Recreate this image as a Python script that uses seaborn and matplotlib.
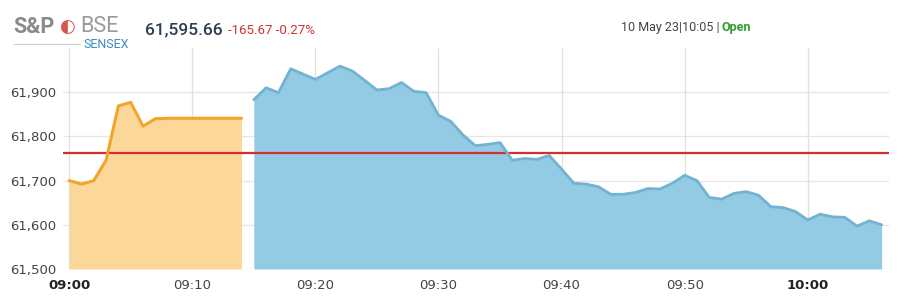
import matplotlib
matplotlib.use("Agg")
import matplotlib.pyplot as plt
import seaborn as sns
import numpy as np
import pandas as pd

# ---- data (minutes after 09:00) ----
pre_minutes = list(range(0, 15))
pre_values = [61700, 61692, 61700, 61746, 61869, 61877, 61823, 61840,
              61841, 61841, 61841, 61841, 61841, 61841, 61841]

live_minutes = list(range(15, 67))
live_values = [61883, 61910, 61899, 61953, 61941, 61929, 61944, 61959, 61948, 61927,
               61905, 61908, 61922, 61902, 61899, 61848, 61834, 61803, 61779, 61782,
               61786, 61746, 61750, 61748, 61757, 61726, 61694, 61692, 61686, 61669,
               61669, 61673, 61682, 61681, 61694, 61712, 61700, 61662, 61658, 61671,
               61675, 61667, 61641, 61639, 61630, 61611, 61624, 61618, 61617, 61597,
               61609, 61600]

prev_close = 61762
y_ticks = [61500, 61600, 61700, 61800, 61900]
x_ticks = [0, 10, 20, 30, 40, 50, 60]
x_labels = ["09:00", "09:10", "09:20", "09:30", "09:40", "09:50", "10:00"]
bold_labels = {"09:00", "10:00"}

pre_df = pd.DataFrame({"t": pre_minutes, "v": pre_values})
live_df = pd.DataFrame({"t": live_minutes, "v": live_values})

sns.set_theme(style="white")
plt.rcParams["font.family"] = ["Roboto", "DejaVu Sans"]

fig = plt.figure(figsize=(9.17, 3.08), dpi=100)
ax = fig.add_axes([63 / 917, 1 - 269 / 308, (889 - 63) / 917, (269 - 48) / 308])

ymin, ymax = 61500, 62000
ax.set_xlim(-0.5, 66.6)
ax.set_ylim(ymin, ymax)

# grid
for yt in y_ticks:
    ax.axhline(yt, color="#e6e6e6", lw=0.9, zorder=0)
for xt in x_ticks:
    ax.axvline(xt, color="#e0e0e0", lw=0.9, zorder=0)

# areas
ax.fill_between(pre_df["t"], pre_df["v"], ymin, color="#fbd899", lw=0, zorder=1)
sns.lineplot(data=pre_df, x="t", y="v", ax=ax, color="#f2a52a", lw=2.2, zorder=3)
ax.fill_between(live_df["t"], live_df["v"], ymin, color="#93cae4", lw=0, zorder=1)
sns.lineplot(data=live_df, x="t", y="v", ax=ax, color="#72b3d0", lw=2.0, zorder=3)

ax.axhline(prev_close, color="#d32f2f", lw=1.6, zorder=2)

for s in ax.spines.values():
    s.set_visible(False)

ax.set_yticks(y_ticks)
ax.set_yticklabels([f"{v:,}" for v in y_ticks], fontsize=9.5, color="#444444",
                   family=["DejaVu Sans"])
ax.set_xticks(x_ticks)
ax.set_xticklabels(x_labels, fontsize=9.5, color="#444444", family=["DejaVu Sans"])
for lbl in ax.get_xticklabels():
    if lbl.get_text() in bold_labels:
        lbl.set_fontweight("bold")
        lbl.set_color("#222222")
ax.tick_params(axis="x", length=0, pad=7)
ax.tick_params(axis="y", length=0, pad=5)
ax.set_xlabel("")
ax.set_ylabel("")

# header
fig.text(13 / 917, 1 - 27 / 308, "S&P", fontsize=15.5, fontweight="bold", color="#8a8a8a",
         va="center", ha="left")
fig.text(60 / 917, 1 - 27 / 308, "\u25d0", fontsize=13, color="#d9534f", va="center", ha="left",
         family=["DejaVu Sans"])
fig.text(80 / 917, 1 - 26 / 308, "BSE", fontsize=15.5, color="#9a9a9a", va="center", ha="left")
fig.text(83 / 917, 1 - 45 / 308, "SENSEX", fontsize=9, color="#3b8fc0", va="center", ha="left")
fig.add_artist(plt.Line2D([14 / 917, 80 / 917], [1 - 44 / 308, 1 - 44 / 308], color="#cccccc", lw=0.8))

fig.text(145 / 917, 1 - 30 / 308, "61,595.66", fontsize=12.5, fontweight="medium",
         color="#2e3d4f", va="center", ha="left")
fig.text(228 / 917, 1 - 31 / 308, "-165.67 -0.27%", fontsize=9.5, color="#d32f2f", va="center",
         ha="left")

fig.text(621 / 917, 1 - 27 / 308, "10 May 23|10:05 |", fontsize=9, color="#444444",
         va="center", ha="left")
fig.text(722 / 917, 1 - 27 / 308, "Open", fontsize=9, color="#2e9e2e", fontweight="bold",
         va="center", ha="left")

fig.savefig("out.png", dpi=100)
